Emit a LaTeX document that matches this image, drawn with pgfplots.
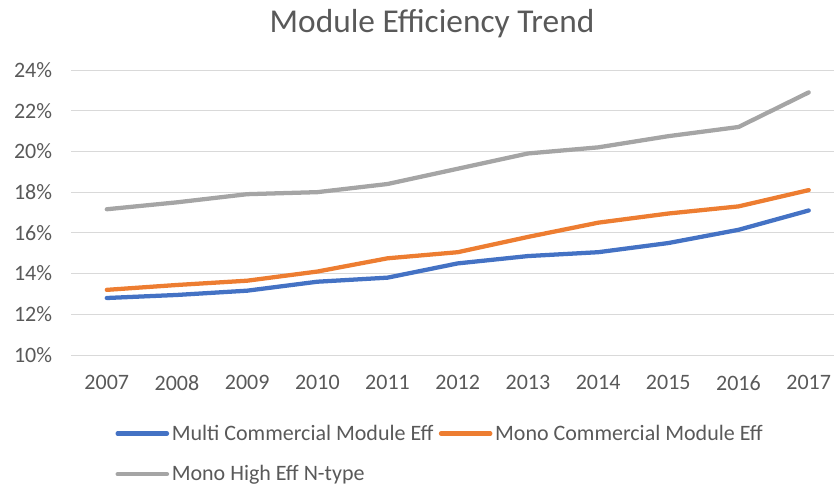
\documentclass[border=0pt]{standalone}
\usepackage{pgfplots}
\pgfplotsset{compat=1.18}
\usepackage{fontspec}
\setmainfont{Carlito}
\definecolor{cblue}{HTML}{4472C4}
\definecolor{corange}{HTML}{ED7D31}
\definecolor{cgray}{HTML}{A5A5A5}
\definecolor{ctext}{HTML}{595959}
\definecolor{cgrid}{HTML}{D9D9D9}
\begin{document}
\begin{tikzpicture}
\useasboundingbox (0pt,0pt) rectangle (625.5pt,364.5pt);
\node[text=ctext,font=\fontsize{25}{30}\selectfont,inner sep=0] at (324pt,346.5pt) {Module Efficiency Trend};
\begin{axis}[
  at={(53.25pt,98.25pt)}, anchor=south west,
  scale only axis, width=572.25pt, height=213.75pt,
  xmin=2006.49, xmax=2017.36,
  ymin=10, ymax=24,
  xtick={2007,...,2017},
  xticklabels={2007,2008,2009,2010,2011,2012,2013,2014,2015,2016,2017},
  ytick={10,12,...,24},
  yticklabels={10\%,12\%,14\%,16\%,18\%,20\%,22\%,24\%},
  ymajorgrids, grid style={cgrid, line width=0.75pt},
  axis line style={draw=none},
  major tick length=0pt,
  tick label style={text=ctext,font=\fontsize{16.5}{19}\selectfont},
  yticklabel style={anchor=east, inner sep=0pt, xshift=-14pt},
  xticklabel style={anchor=north, inner sep=0pt, yshift=-15pt},
  clip=false,
  legend columns=2,
  legend style={draw=none, fill=none, inner sep=0pt,
    at={(0.058,-0.235)}, anchor=north west,
    font=\fontsize{16.5}{19}\selectfont, text=ctext,
    /tikz/every even column/.append style={column sep=2pt},
    row sep=13.5pt},
  legend cell align=left,
  legend image code/.code={\draw[#1, line width=3.2pt] (0pt,0pt) -- (37pt,0pt);},
  every axis plot/.append style={line width=3.2pt, line join=round, line cap=round},
]
\addplot[cblue] coordinates {(2007,12.8) (2008,12.95) (2009,13.16) (2010,13.6) (2011,13.8) (2012,14.5) (2013,14.86) (2014,15.05) (2015,15.5) (2016,16.15) (2017,17.1)};
\addlegendentry{Multi Commercial Module Eff}
\addplot[corange] coordinates {(2007,13.2) (2008,13.44) (2009,13.65) (2010,14.1) (2011,14.75) (2012,15.05) (2013,15.8) (2014,16.5) (2015,16.95) (2016,17.3) (2017,18.1)};
\addlegendentry{Mono Commercial Module Eff}
\addplot[cgray] coordinates {(2007,17.16) (2008,17.5) (2009,17.9) (2010,18.0) (2011,18.4) (2012,19.15) (2013,19.9) (2014,20.2) (2015,20.75) (2016,21.2) (2017,22.9)};
\addlegendentry{Mono High Eff N-type}
\end{axis}
\end{tikzpicture}
\end{document}
